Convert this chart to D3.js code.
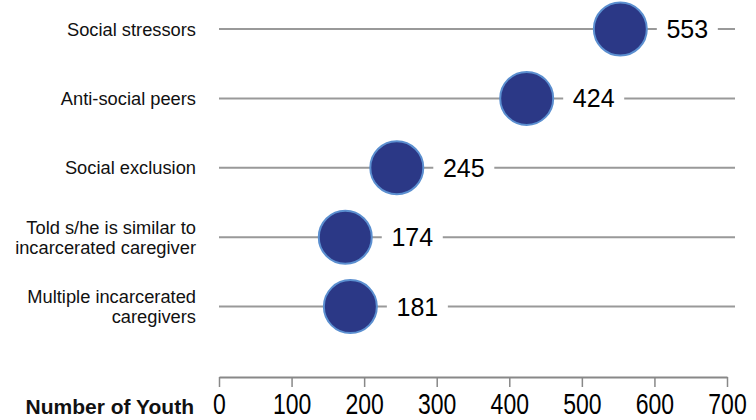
<!DOCTYPE html>
<html>
<head>
<meta charset="utf-8">
<script src="https://cdn.jsdelivr.net/npm/d3@7"></script>
<style>
  html, body { margin: 0; padding: 0; background: #fff; }
  svg { display: block; font-family: "Liberation Sans", Arial, sans-serif; }
</style>
</head>
<body>
<svg id="chart" width="756" height="420"></svg>
<script>
const categories = [
  ["Social stressors"],
  ["Anti-social peers"],
  ["Social exclusion"],
  ["Told s/he is similar to", "incarcerated caregiver"],
  ["Multiple incarcerated", "caregivers"]
];
const values = [553, 424, 245, 174, 181];
const tickValues = [0, 100, 200, 300, 400, 500, 600, 700];
const axisTitle = "Number of Youth";

const svg = d3.select("#chart");
const x = d3.scaleLinear().domain([0, 700]).range([219, 727]);
const y = d3.scalePoint().domain(d3.range(categories.length + 1)).range([29, 376]);

// row lines
svg.append("g").selectAll("line").data(values).join("line")
  .attr("x1", x(0)).attr("x2", 735)
  .attr("y1", (d, i) => y(i)).attr("y2", (d, i) => y(i))
  .attr("stroke", "#999").attr("stroke-width", 2);

// value label boxes + text
const lab = svg.append("g").selectAll("g").data(values).join("g")
  .attr("transform", (d, i) => `translate(${x(d) + 67},${y(i)})`);
lab.append("rect").attr("x", -30.5).attr("y", -15).attr("width", 61).attr("height", 30).attr("fill", "#fff");
lab.append("text").text(d => d)
  .attr("text-anchor", "middle").attr("dy", "0.36em")
  .attr("font-size", 25).attr("fill", "#000");

// circles
svg.append("g").selectAll("circle").data(values).join("circle")
  .attr("cx", d => x(d)).attr("cy", (d, i) => y(i)).attr("r", 26.5)
  .attr("fill", "#2B3886").attr("stroke", "#5B8FD0").attr("stroke-width", 2);

// category labels
const cl = svg.append("g").selectAll("text").data(categories).join("text")
  .attr("text-anchor", "end").attr("font-size", 18.3).attr("fill", "#111")
  .attr("transform", (d, i) => `translate(196,${y(i)})`);
cl.each(function(lines) {
  const t = d3.select(this);
  const n = lines.length;
  lines.forEach((s, k) => {
    t.append("tspan").attr("x", 0)
      .attr("y", (k - (n - 1) / 2) * 20.5)
      .attr("dy", "0.36em").text(s);
  });
});

// axis
const axis = d3.axisBottom(x).tickValues(tickValues).tickSize(10).tickSizeOuter(0);
const ag = svg.append("g").attr("transform", "translate(0,377)").call(axis);
ag.select(".domain").attr("stroke", "#888").attr("stroke-width", 2);
ag.selectAll(".tick line").attr("stroke", "#888").attr("stroke-width", 1.5);
ag.selectAll(".tick text")
  .attr("font-family", "'Liberation Sans', Arial, sans-serif")
  .attr("font-size", 23).attr("fill", "#000")
  .attr("y", 0).attr("dy", 0)
  .attr("transform", "translate(0,37) scale(1,1.25)");

svg.append("text").text(axisTitle)
  .attr("x", 194).attr("y", 414).attr("text-anchor", "end")
  .attr("font-size", 21).attr("font-weight", "bold").attr("fill", "#111");
</script>
</body>
</html>
